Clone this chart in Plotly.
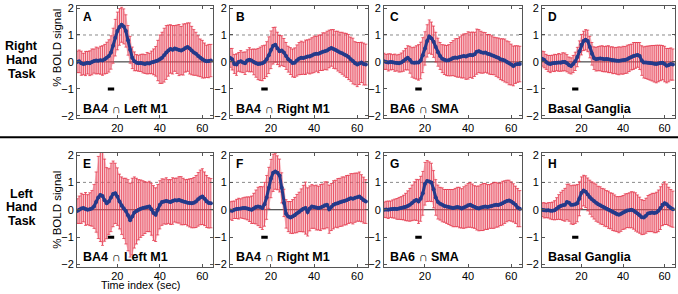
import plotly.graph_objects as go

# ---------------- data ----------------
t = list(range(1, 65))

letters = ["A", "B", "C", "D", "E", "F", "G", "H"]
regions = ["<b>BA4</b> ∩ <b>Left M1</b>", "<b>BA4</b> ∩ <b>Right M1</b>",
           "<b>BA6</b> ∩ <b>SMA</b>", "<b>Basal Ganglia</b>"] * 2
row_labels = [["Right", "Hand", "Task"], ["Left", "Hand", "Task"]]
x_ticks = [20, 40, 60]
y_ticks = [-2, -1, 0, 1, 2]
stim_on = [15.5, 18.5]
stim_level = [-1.06, -0.95]

mean_A = [0.00, 0.02, -0.05, -0.08, -0.06, -0.03, -0.05, 0.00, 0.03, 0.05, 0.04, 0.06, 0.05, 0.10, 0.15, 0.22,
          0.35, 0.60, 0.90, 1.15, 1.30, 1.38, 1.32, 1.15, 0.80, 0.45, 0.15, 0.02, -0.03, -0.05, -0.04, -0.06,
          -0.08, -0.05, -0.06, -0.02, 0.00, 0.02, 0.05, 0.10, 0.15, 0.25, 0.35, 0.42, 0.48, 0.45, 0.50, 0.47,
          0.44, 0.42, 0.46, 0.52, 0.55, 0.50, 0.42, 0.35, 0.30, 0.22, 0.15, 0.10, 0.05, 0.02, 0.03, 0.05]
err_A = [0.40, 0.42, 0.45, 0.40, 0.45, 0.42, 0.46, 0.48, 0.45, 0.50, 0.48, 0.52, 0.55, 0.55, 0.58, 0.60,
         0.62, 0.65, 0.68, 0.70, 0.68, 0.65, 0.65, 0.60, 0.55, 0.50, 0.40, 0.35, 0.30, 0.30, 0.32, 0.35,
         0.35, 0.40, 0.38, 0.42, 0.48, 0.55, 0.75, 0.90, 0.95, 1.00, 1.00, 0.95, 0.90, 0.90, 0.85, 0.90,
         0.95, 0.90, 0.95, 0.90, 0.90, 0.95, 0.90, 0.85, 0.80, 0.75, 0.70, 0.70, 0.65, 0.60, 0.62, 0.60]

mean_B = [0.15, 0.10, -0.08, -0.10, 0.00, 0.02, -0.02, -0.05, 0.05, 0.08, 0.05, 0.00, -0.05, -0.08, -0.07, -0.05,
          0.00, 0.10, 0.25, 0.45, 0.60, 0.64, 0.50, 0.40, 0.42, 0.35, 0.22, 0.10, 0.03, -0.04, -0.03, 0.05,
          0.12, 0.15, 0.14, 0.17, 0.20, 0.20, 0.24, 0.28, 0.30, 0.30, 0.34, 0.38, 0.40, 0.42, 0.48, 0.52,
          0.48, 0.44, 0.40, 0.35, 0.32, 0.27, 0.24, 0.18, 0.10, 0.03, -0.05, -0.10, -0.06, -0.02, -0.08, -0.10]
err_B = [0.35, 0.40, 0.35, 0.40, 0.35, 0.40, 0.38, 0.42, 0.40, 0.45, 0.42, 0.48, 0.52, 0.58, 0.62, 0.65,
         0.62, 0.65, 0.68, 0.70, 0.68, 0.65, 0.60, 0.58, 0.55, 0.52, 0.50, 0.48, 0.50, 0.52, 0.55, 0.58,
         0.60, 0.62, 0.60, 0.64, 0.62, 0.65, 0.66, 0.68, 0.65, 0.70, 0.66, 0.70, 0.68, 0.72, 0.70, 0.68,
         0.72, 0.70, 0.74, 0.75, 0.78, 0.80, 0.82, 0.84, 0.82, 0.85, 0.80, 0.82, 0.78, 0.75, 0.78, 0.76]

mean_C = [0.02, 0.00, -0.02, 0.00, -0.01, -0.03, -0.04, -0.05, -0.02, 0.03, 0.10, 0.15, 0.08, -0.02, -0.03, -0.02,
          -0.02, 0.05, 0.25, 0.50, 0.78, 0.94, 0.88, 0.75, 0.55, 0.36, 0.22, 0.12, 0.08, 0.05, 0.06, 0.10,
          0.14, 0.16, 0.15, 0.18, 0.20, 0.22, 0.20, 0.24, 0.26, 0.25, 0.28, 0.38, 0.40, 0.36, 0.34, 0.35,
          0.30, 0.28, 0.25, 0.22, 0.18, 0.15, 0.10, 0.08, 0.05, 0.00, -0.05, -0.10, -0.15, -0.10, -0.08, -0.08]
err_C = [0.30, 0.28, 0.32, 0.30, 0.28, 0.32, 0.30, 0.33, 0.35, 0.38, 0.40, 0.45, 0.50, 0.55, 0.58, 0.62,
         0.66, 0.68, 0.65, 0.62, 0.60, 0.62, 0.60, 0.58, 0.55, 0.52, 0.50, 0.52, 0.55, 0.56, 0.58, 0.62,
         0.65, 0.70, 0.72, 0.75, 0.80, 0.82, 0.85, 0.88, 0.84, 0.86, 0.82, 0.84, 0.80, 0.78, 0.76, 0.74,
         0.72, 0.74, 0.72, 0.70, 0.72, 0.74, 0.76, 0.78, 0.80, 0.78, 0.80, 0.76, 0.74, 0.70, 0.68, 0.66]

mean_D = [0.12, 0.08, 0.00, -0.06, -0.08, -0.05, -0.04, -0.03, -0.02, -0.03, 0.00, 0.00, -0.05, -0.12, -0.15, -0.08,
          0.02, 0.18, 0.40, 0.64, 0.78, 0.82, 0.78, 0.55, 0.30, 0.14, 0.10, 0.12, 0.13, 0.12, 0.10, 0.11,
          0.10, 0.08, 0.06, 0.05, 0.04, 0.04, 0.05, 0.06, 0.07, 0.10, 0.14, 0.18, 0.22, 0.24, 0.26, 0.22,
          0.05, -0.02, -0.02, -0.03, -0.04, -0.05, -0.07, -0.08, -0.06, -0.04, -0.03, -0.08, -0.14, -0.12, -0.08, -0.10]
err_D = [0.28, 0.30, 0.28, 0.30, 0.32, 0.30, 0.32, 0.30, 0.33, 0.32, 0.34, 0.33, 0.32, 0.30, 0.30, 0.32,
         0.34, 0.36, 0.38, 0.38, 0.36, 0.38, 0.40, 0.40, 0.42, 0.42, 0.44, 0.45, 0.46, 0.48, 0.47, 0.48,
         0.50, 0.48, 0.50, 0.48, 0.50, 0.52, 0.50, 0.52, 0.50, 0.52, 0.50, 0.48, 0.50, 0.48, 0.46, 0.50,
         0.55, 0.58, 0.60, 0.62, 0.64, 0.66, 0.68, 0.70, 0.68, 0.66, 0.64, 0.66, 0.64, 0.62, 0.60, 0.58]

mean_E = [-0.05, 0.00, 0.05, 0.06, 0.03, 0.00, 0.02, 0.05, 0.12, 0.28, 0.45, 0.54, 0.50, 0.35, 0.24, 0.30,
          0.45, 0.58, 0.60, 0.48, 0.30, 0.15, 0.05, -0.05, -0.20, -0.38, -0.25, -0.10, -0.05, 0.00, 0.04, 0.06,
          0.08, 0.10, 0.12, 0.02, -0.12, -0.18, 0.00, 0.18, 0.28, 0.30, 0.32, 0.30, 0.28, 0.32, 0.35, 0.34,
          0.36, 0.33, 0.30, 0.28, 0.26, 0.25, 0.24, 0.26, 0.30, 0.38, 0.45, 0.48, 0.40, 0.30, 0.25, 0.24]
err_E = [0.45, 0.50, 0.55, 0.50, 0.60, 0.55, 0.60, 0.65, 0.80, 1.10, 1.50, 1.70, 1.80, 1.50, 1.30, 1.20,
         1.25, 1.20, 1.10, 1.05, 1.00, 1.05, 1.10, 1.20, 1.30, 1.35, 1.40, 1.30, 1.20, 1.10, 1.05, 1.00,
         0.95, 0.90, 0.92, 0.95, 1.00, 0.98, 0.92, 0.88, 0.85, 0.82, 0.85, 0.80, 0.82, 0.85, 0.80, 0.82,
         0.85, 0.88, 0.85, 0.82, 0.85, 0.88, 0.90, 0.92, 0.95, 0.98, 1.00, 1.02, 0.98, 0.95, 0.92, 0.90]

mean_F = [-0.03, -0.04, 0.00, 0.03, 0.04, 0.05, 0.06, 0.06, 0.05, 0.02, 0.00, 0.05, 0.10, 0.12, 0.10, 0.06,
          0.20, 0.45, 0.80, 1.14, 1.35, 1.40, 1.35, 1.25, 0.80, 0.25, -0.15, -0.25, -0.28, -0.25, -0.20, -0.14,
          -0.08, -0.02, 0.04, 0.06, -0.08, 0.05, 0.12, 0.10, 0.08, 0.06, 0.08, 0.12, 0.16, 0.18, 0.02, 0.10,
          0.18, 0.22, 0.24, 0.27, 0.30, 0.32, 0.35, 0.38, 0.42, 0.40, 0.44, 0.46, 0.48, 0.42, 0.35, 0.30]
err_F = [0.32, 0.35, 0.32, 0.35, 0.38, 0.35, 0.38, 0.40, 0.42, 0.45, 0.50, 0.55, 0.62, 0.70, 0.75, 0.78,
         0.80, 0.80, 0.75, 0.70, 0.68, 0.65, 0.62, 0.60, 0.55, 0.50, 0.52, 0.55, 0.58, 0.62, 0.65, 0.70,
         0.72, 0.78, 0.85, 0.95, 0.88, 0.82, 0.80, 0.78, 0.82, 0.80, 0.84, 0.82, 0.86, 0.84, 0.88, 0.86,
         0.88, 0.86, 0.90, 0.88, 0.90, 0.88, 0.90, 0.88, 0.90, 0.92, 0.90, 0.88, 0.90, 0.86, 0.84, 0.80]

mean_G = [0.00, 0.01, 0.00, 0.02, 0.03, 0.04, 0.03, 0.05, 0.06, 0.08, 0.10, 0.14, 0.18, 0.25, 0.32, 0.36,
          0.30, 0.40, 0.60, 0.95, 1.05, 1.03, 1.00, 0.75, 0.45, 0.28, 0.22, 0.18, 0.14, 0.12, 0.10, 0.08,
          0.06, 0.08, 0.10, 0.08, 0.05, 0.08, 0.12, 0.16, 0.18, 0.14, 0.10, 0.06, 0.05, 0.08, 0.10, 0.12,
          0.10, 0.12, 0.14, 0.16, 0.18, 0.17, 0.20, 0.24, 0.28, 0.32, 0.34, 0.30, 0.25, 0.18, 0.08, 0.04]
err_G = [0.28, 0.30, 0.32, 0.30, 0.33, 0.35, 0.38, 0.40, 0.42, 0.45, 0.50, 0.55, 0.60, 0.65, 0.70, 0.75,
         0.80, 0.82, 0.80, 0.78, 0.75, 0.72, 0.70, 0.68, 0.65, 0.62, 0.60, 0.62, 0.60, 0.62, 0.64, 0.66,
         0.68, 0.70, 0.72, 0.74, 0.72, 0.76, 0.78, 0.80, 0.82, 0.80, 0.78, 0.80, 0.82, 0.84, 0.86, 0.84,
         0.82, 0.80, 0.82, 0.84, 0.82, 0.80, 0.78, 0.80, 0.78, 0.76, 0.74, 0.72, 0.70, 0.68, 0.70, 0.66]

mean_H = [0.00, -0.02, -0.03, -0.02, -0.04, -0.04, -0.02, 0.04, 0.10, 0.14, 0.16, 0.18, 0.28, 0.26, 0.18, 0.18,
          0.20, 0.24, 0.40, 0.62, 0.70, 0.66, 0.56, 0.46, 0.38, 0.32, 0.26, 0.20, 0.16, 0.12, 0.08, 0.04,
          0.00, -0.04, -0.08, -0.12, -0.16, -0.18, -0.15, -0.10, -0.06, -0.03, -0.02, 0.00, -0.03, -0.08, -0.14, -0.20,
          -0.27, -0.28, -0.22, -0.14, -0.12, -0.10, -0.12, -0.10, -0.04, 0.06, 0.18, 0.24, 0.20, 0.12, 0.06, 0.02]
err_H = [0.25, 0.28, 0.26, 0.28, 0.30, 0.32, 0.35, 0.40, 0.45, 0.50, 0.55, 0.60, 0.65, 0.68, 0.70, 0.72,
         0.70, 0.68, 0.62, 0.58, 0.56, 0.58, 0.60, 0.62, 0.64, 0.66, 0.68, 0.66, 0.68, 0.66, 0.68, 0.66,
         0.68, 0.66, 0.68, 0.66, 0.64, 0.66, 0.64, 0.62, 0.64, 0.62, 0.64, 0.66, 0.68, 0.70, 0.68, 0.66,
         0.64, 0.62, 0.64, 0.66, 0.68, 0.70, 0.72, 0.74, 0.76, 0.78, 0.76, 0.78, 0.74, 0.70, 0.68, 0.66]

means = [mean_A, mean_B, mean_C, mean_D, mean_E, mean_F, mean_G, mean_H]
errs = [err_A, err_B, err_C, err_D, err_E, err_F, err_G, err_H]

# ---------------- style / layout ----------------
W, H = 678, 294
FONT = "Liberation Sans, Arial, Helvetica, sans-serif"
RED = "#E2263C"
FILL = "rgba(240,125,140,0.42)"
NAVY = "#243A8A"
AX = "#555555"

col_px = [(77, 213), (230, 368), (384, 522), (542, 675)]
row_px = [(2, 117), (153, 270)]

fig = go.Figure()
layout = dict(width=W, height=H, margin=dict(l=0, r=0, t=0, b=0),
              paper_bgcolor="white", plot_bgcolor="white", showlegend=False,
              font=dict(family=FONT, color="black"))
shapes = []
annotations = []

for i in range(8):
    k = i + 1
    r, c = divmod(i, 4)
    xa = "x" if k == 1 else f"x{k}"
    ya = "y" if k == 1 else f"y{k}"
    m, e = means[i], errs[i]
    up = [a + b for a, b in zip(m, e)]
    lo = [a - b for a, b in zip(m, e)]

    fig.add_trace(go.Scatter(x=t + t[::-1], y=up + lo[::-1], fill="toself", fillcolor=FILL,
                             mode="lines", line=dict(width=0), hoverinfo="skip",
                             xaxis=xa, yaxis=ya))
    fig.add_trace(go.Scatter(x=t, y=m, mode="markers", marker=dict(size=2, opacity=0),
                             error_y=dict(type="data", array=e, visible=True, color=RED,
                                          thickness=0.7, width=1.5),
                             hoverinfo="skip", xaxis=xa, yaxis=ya))
    fig.add_trace(go.Scatter(x=t, y=m, mode="lines+markers",
                             line=dict(color=NAVY, width=3),
                             marker=dict(color=NAVY, size=4),
                             xaxis=xa, yaxis=ya))

    x0, x1 = col_px[c]
    y0, y1 = row_px[r]
    axcommon = dict(ticks="inside", ticklen=3, tickcolor=AX, showline=True, linecolor=AX,
                    linewidth=1, mirror="ticks", showgrid=False, zeroline=False,
                    tickfont=dict(size=11, color="black", family=FONT))
    layout["xaxis" if k == 1 else f"xaxis{k}"] = dict(
        domain=[x0 / W, x1 / W], range=[1, 65], anchor=ya, tickvals=x_ticks,
        ticklabelstandoff=-1 if r == 1 else 0, **axcommon)
    layout["yaxis" if k == 1 else f"yaxis{k}"] = dict(
        domain=[1 - y1 / H, 1 - y0 / H], range=[-2.08, 2.08], anchor=xa, tickvals=y_ticks, **axcommon)

    # reference lines
    shapes.append(dict(type="line", xref=f"{xa} domain", yref=ya, x0=0, x1=1, y0=1, y1=1,
                       line=dict(color="#8a8a8a", width=1, dash="dot"), layer="below"))
    shapes.append(dict(type="line", xref=f"{xa} domain", yref=ya, x0=0, x1=1, y0=0, y1=0,
                       line=dict(color="#222222", width=1), layer="below"))
    # stimulus marker
    shapes.append(dict(type="rect", xref=xa, yref=ya, x0=stim_on[0], x1=stim_on[1],
                       y0=stim_level[0], y1=stim_level[1], fillcolor="black",
                       line=dict(width=0), layer="above"))

    annotations.append(dict(text=f"<b>{letters[i]}</b>", xref=f"{xa} domain", yref=f"{ya} domain",
                            x=0, y=0.9, xanchor="left", yanchor="middle", xshift=4,
                            showarrow=False, font=dict(size=12, family=FONT, color="black")))
    annotations.append(dict(text=regions[i], xref=f"{xa} domain", yref=f"{ya} domain",
                            x=0, y=0.083, xanchor="left", yanchor="middle", xshift=4,
                            showarrow=False, font=dict(size=12.5, family=FONT, color="black")))

# row labels
row_line_y = [[42.7, 57.3, 71.7], [195, 209, 223.3]]
for r in range(2):
    for word, yp in zip(row_labels[r], row_line_y[r]):
        annotations.append(dict(text=f"<b>{word}</b>", xref="paper", yref="paper",
                                x=21.5 / W, y=1 - yp / H, xanchor="center", yanchor="middle",
                                showarrow=False, font=dict(size=12.5, family=FONT, color="black")))

# y axis titles
for yp in [45, 211.5]:
    annotations.append(dict(text="% BOLD signal", xref="paper", yref="paper",
                            x=57 / W, y=1 - yp / H, xanchor="center", yanchor="middle",
                            textangle=-90, showarrow=False,
                            font=dict(size=11.5, family=FONT, color="black")))
# x axis title
annotations.append(dict(text="Time index (sec)", xref="paper", yref="paper",
                        x=140 / W, y=1 - 288.5 / H, xanchor="center", yanchor="middle",
                        showarrow=False, font=dict(size=10.8, family=FONT, color="black")))

# separator
shapes.append(dict(type="line", xref="paper", yref="paper", x0=0, x1=1,
                   y0=1 - 137 / H, y1=1 - 137 / H, line=dict(color="black", width=2)))

layout["shapes"] = shapes
layout["annotations"] = annotations
fig.update_layout(**layout)
fig.write_html("out.html",
               config={"displayModeBar": False},
               post_script="document.body.style.margin='0px';document.body.style.padding='0px';"
                           "document.body.style.overflow='hidden';")
